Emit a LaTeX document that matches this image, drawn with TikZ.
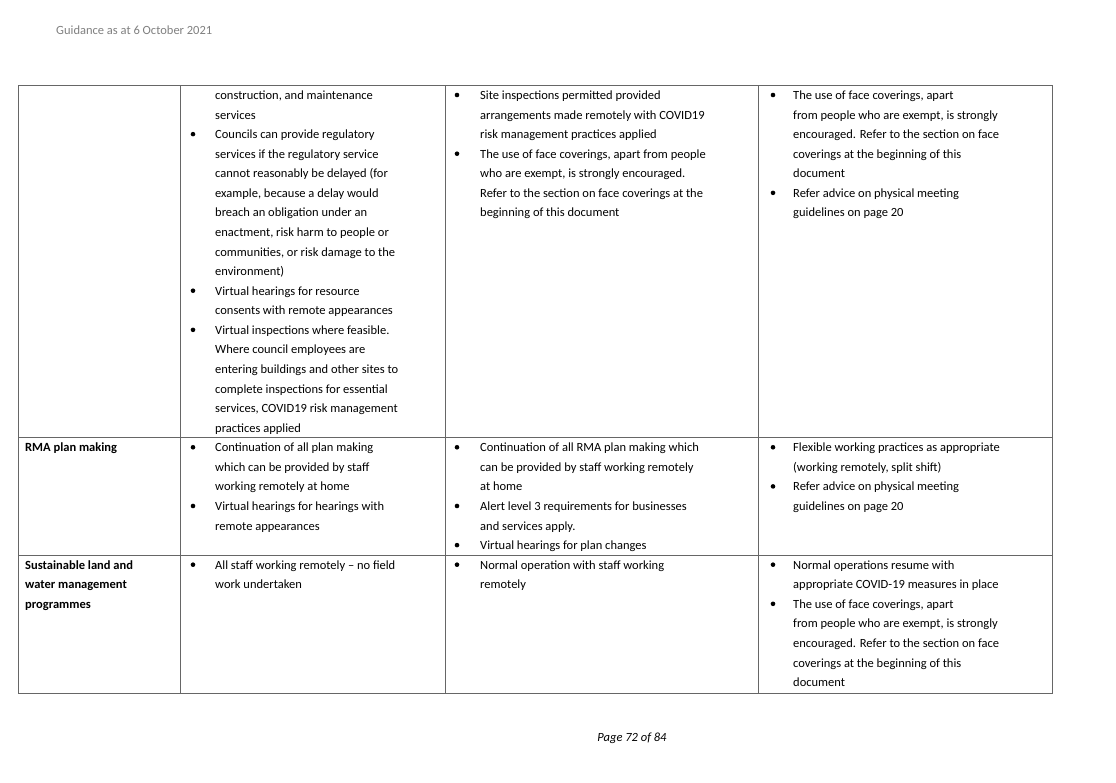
\documentclass[tikz,border=0pt]{standalone}
\usepackage{fontspec}
\setmainfont{Carlito}
\newcounter{ln}
\newcommand{\cx}[1]{\ifcase#1\or25\or215\or480\or793\fi}
\newcommand{\bx}[1]{\ifcase#1\or0\or193\or457\or773\fi}
\newcommand{\Ln}[3]{\stepcounter{ln}\node[txt] (l\theln) at (\cx{#1},{95+19.57*#2+4.5}) {#3};}
\newcommand{\Bl}[3]{\stepcounter{ln}\node[txt] (l\theln) at (\cx{#1},{95+19.57*#2+4.5}) {#3};\fill (\bx{#1},{95+19.57*#2}) circle (2.3);}
\newcommand{\Bd}[3]{\stepcounter{ln}\node[txt,font=\fontsize{12.5}{15}\selectfont\bfseries] (l\theln) at (\cx{#1},{95+19.57*#2+4.5}) {#3};}
\begin{document}
\begin{tikzpicture}[x=1pt,y=-1pt,txt/.style={anchor=base west,inner sep=0,font=\fontsize{12.5}{15}\selectfont},grid/.style={draw=black!60,line width=0.8}]
\useasboundingbox (0,0) rectangle (1116,782);
\fill[white] (0,0) rectangle (1116,782);
\node[txt,text=black!50,font=\fontsize{12.5}{15}\selectfont] (hdr) at (56,34.5) {Guidance as at 6 October 2021};
\node[txt,font=\fontsize{12.5}{15}\selectfont\itshape,anchor=base] (ftr) at (632,741.5) {Page 72 of 84};
\draw[grid] (18,85) rectangle (1052,693);
\foreach \x in {180,445,758} \draw[grid] (\x,85) -- (\x,693);
\foreach \y in {437,555} \draw[grid] (18,\y) -- (1052,\y);
% row 1
\Ln{2}{0}{construction, and maintenance}
\Ln{2}{1}{services}
\Bl{2}{2}{Councils can provide regulatory}
\Ln{2}{3}{services if the regulatory service}
\Ln{2}{4}{cannot reasonably be delayed (for}
\Ln{2}{5}{example, because a delay would}
\Ln{2}{6}{breach an obligation under an}
\Ln{2}{7}{enactment, risk harm to people or}
\Ln{2}{8}{communities, or risk damage to the}
\Ln{2}{9}{environment)}
\Bl{2}{10}{Virtual hearings for resource}
\Ln{2}{11}{consents with remote appearances}
\Bl{2}{12}{Virtual inspections where feasible.}
\Ln{2}{13}{Where council employees are}
\Ln{2}{14}{entering buildings and other sites to}
\Ln{2}{15}{complete inspections for essential}
\Ln{2}{16}{services, COVID19 risk management}
\Ln{2}{17}{practices applied}
\Bl{3}{0}{Site inspections permitted provided}
\Ln{3}{1}{arrangements made remotely with COVID19}
\Ln{3}{2}{risk management practices applied}
\Bl{3}{3}{The use of face coverings, apart from people}
\Ln{3}{4}{who are exempt, is strongly encouraged.}
\Ln{3}{5}{Refer to the section on face coverings at the}
\Ln{3}{6}{beginning of this document}
\Bl{4}{0}{The use of face coverings, apart}
\Ln{4}{1}{from people who are exempt, is strongly}
\Ln{4}{2}{encouraged. Refer to the section on face}
\Ln{4}{3}{coverings at the beginning of this}
\Ln{4}{4}{document}
\Bl{4}{5}{Refer advice on physical meeting}
\Ln{4}{6}{guidelines on page 20}
% row 2
\Bd{1}{18}{RMA plan making}
\Bl{2}{18}{Continuation of all plan making}
\Ln{2}{19}{which can be provided by staff}
\Ln{2}{20}{working remotely at home}
\Bl{2}{21}{Virtual hearings for hearings with}
\Ln{2}{22}{remote appearances}
\Bl{3}{18}{Continuation of all RMA plan making which}
\Ln{3}{19}{can be provided by staff working remotely}
\Ln{3}{20}{at home}
\Bl{3}{21}{Alert level 3 requirements for businesses}
\Ln{3}{22}{and services apply.}
\Bl{3}{23}{Virtual hearings for plan changes}
\Bl{4}{18}{Flexible working practices as appropriate}
\Ln{4}{19}{(working remotely, split shift)}
\Bl{4}{20}{Refer advice on physical meeting}
\Ln{4}{21}{guidelines on page 20}
% row 3
\Bd{1}{24}{Sustainable land and}
\Bd{1}{25}{water management}
\Bd{1}{26}{programmes}
\Bl{2}{24}{All staff working remotely -- no field}
\Ln{2}{25}{work undertaken}
\Bl{3}{24}{Normal operation with staff working}
\Ln{3}{25}{remotely}
\Bl{4}{24}{Normal operations resume with}
\Ln{4}{25}{appropriate COVID-19 measures in place}
\Bl{4}{26}{The use of face coverings, apart}
\Ln{4}{27}{from people who are exempt, is strongly}
\Ln{4}{28}{encouraged. Refer to the section on face}
\Ln{4}{29}{coverings at the beginning of this}
\Ln{4}{30}{document}
\end{tikzpicture}
\end{document}
